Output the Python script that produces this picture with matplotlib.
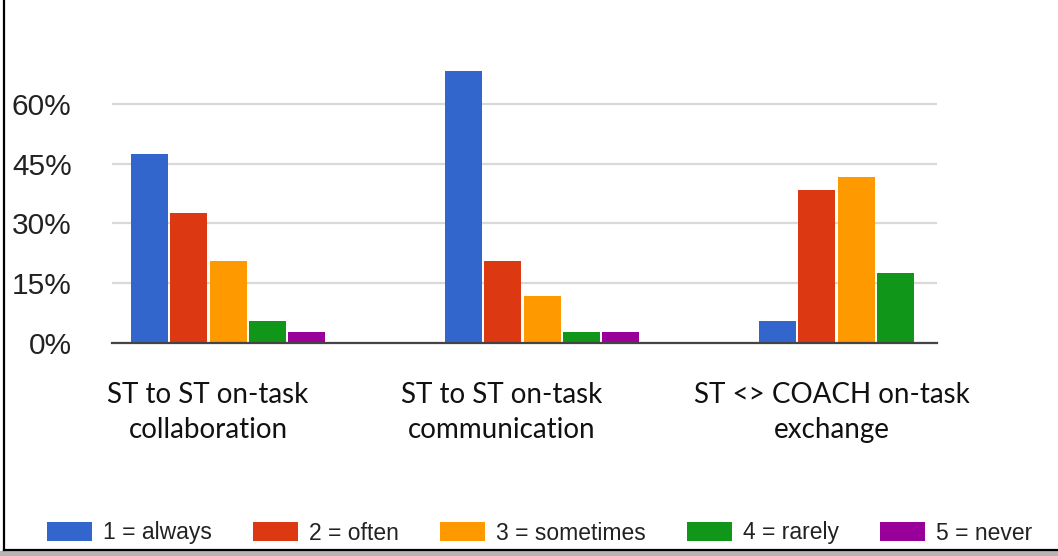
import numpy as np
import matplotlib
matplotlib.use('Agg')
import matplotlib.pyplot as plt
from matplotlib.lines import Line2D
from matplotlib.patches import Rectangle
from matplotlib.ticker import FixedLocator, FuncFormatter

categories = ['ST to ST on-task\ncollaboration',
              'ST to ST on-task\ncommunication',
              'ST <> COACH on-task\nexchange']
series = ['1 = always', '2 = often', '3 = sometimes', '4 = rarely', '5 = never']
colors = ['#3366cc', '#dc3912', '#ff9900', '#109618', '#990099']

# percent of answers, rows = series, columns = categories
always = [47.5, 68.4, 5.5]
often = [32.6, 20.5, 38.4]
sometimes = [20.5, 11.8, 41.8]
rarely = [5.5, 2.6, 17.6]
never = [2.6, 2.6, 0.0]
values = [always, often, sometimes, rarely, never]

yticks = [0, 15, 30, 45, 60]

W, H = 1058, 556
fig = plt.figure(figsize=(W / 100, H / 100), dpi=100)
fig.patch.set_facecolor('white')

px_per_group = 314.0
ax_left, ax_right = 112, 937
y0_px, ppp = 342.7, 238.4 / 60  # baseline pixel row, pixels per percent
ymax = 75
ax_top = y0_px - ymax * ppp
ax = fig.add_axes([ax_left / W, (H - y0_px) / H,
                   (ax_right - ax_left) / W, (y0_px - ax_top) / H])

x = np.arange(len(categories))
bar_w = 37 / px_per_group
step = 39.3 / px_per_group
for i, (vals, c, name) in enumerate(zip(values, colors, series)):
    ax.bar(x + (i - 2) * step, vals, width=bar_w, color=c, label=name,
           zorder=3, linewidth=0)

ax.set_xlim((ax_left - 228) / px_per_group, (ax_right - 228) / px_per_group)
ax.set_ylim(0, ymax)

ax.yaxis.set_major_locator(FixedLocator(yticks))
ax.yaxis.set_major_formatter(FuncFormatter(lambda v, p: f'{v:.0f}%'))
ax.grid(axis='y', color='#d9d9d9', linewidth=1.6, zorder=0)
ax.tick_params(axis='y', length=0, pad=29, labelsize=21.5, labelcolor='#222222')
for lab in ax.get_yticklabels():
    lab.set_family('Liberation Sans')

# category labels sit a bit left of the group centres in the original
label_px = [208, 502, 832]
ax.set_xticks([(p - 228) / px_per_group for p in label_px])
ax.set_xticklabels(categories, fontsize=20, family='Lato', color='#111111',
                   linespacing=1.45)
ax.tick_params(axis='x', length=0, pad=28)

for s in ['top', 'right', 'left']:
    ax.spines[s].set_visible(False)
ax.spines['bottom'].set_color('#444444')
ax.spines['bottom'].set_linewidth(1.6)
ax.spines['bottom'].set_zorder(4)

leg = fig.legend(loc='center left', bbox_to_anchor=(26 / W, 1 - 533 / H),
                 ncol=5, frameon=False, handlelength=1.96, handleheight=0.92,
                 handletextpad=0.5, columnspacing=1.78,
                 prop={'family': 'Liberation Sans', 'size': 16.5})
for t in leg.get_texts():
    t.set_color('#222222')

# frame of the pasted screenshot: left and bottom edge with a shadow
fig.add_artist(Rectangle((0, 0), 1, 5 / H, transform=fig.transFigure,
                         color='#b5b5b5', zorder=0))
fig.add_artist(Line2D([4 / W, 4 / W], [6 / H, 1], transform=fig.transFigure,
                      color='black', linewidth=1.6))
fig.add_artist(Line2D([4 / W, 1], [6 / H, 6 / H], transform=fig.transFigure,
                      color='black', linewidth=1.6))

fig.savefig('out.png', dpi=100)
